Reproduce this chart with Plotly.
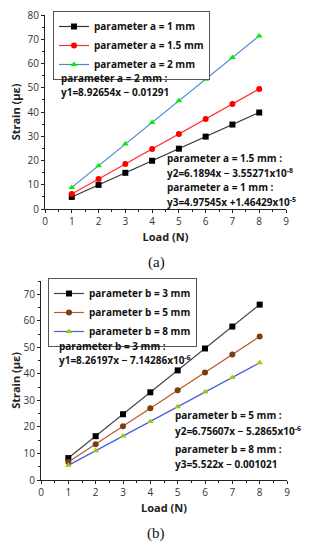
import plotly.graph_objects as go

load = [1, 2, 3, 4, 5, 6, 7, 8]

# (a)
a_names = ["parameter a = 1 mm", "parameter a = 1.5 mm", "parameter a = 2 mm"]
a1 = [4.98, 9.95, 14.93, 19.90, 24.88, 29.85, 34.83, 39.80]
a15 = [6.19, 12.38, 18.57, 24.76, 30.95, 37.14, 43.33, 49.52]
a2 = [8.91, 17.84, 26.77, 35.69, 44.62, 53.55, 62.47, 71.40]

# (b)
b_names = ["parameter b = 3 mm", "parameter b = 5 mm", "parameter b = 8 mm"]
b3 = [8.26, 16.52, 24.79, 33.05, 41.31, 49.57, 57.83, 66.10]
b5 = [6.76, 13.51, 20.27, 27.02, 33.78, 40.54, 47.29, 54.05]
b8 = [5.52, 11.04, 16.56, 22.09, 27.61, 33.13, 38.65, 44.18]

x_ticks = [0, 1, 2, 3, 4, 5, 6, 7, 8, 9]
ya_ticks = [0, 10, 20, 30, 40, 50, 60, 70, 80]
yb_ticks = [0, 10, 20, 30, 40, 50, 60, 70]

# page body has an 8px margin; the figure fills the rest of the 312x550 window
OFF = 8
W, H = 312 - OFF, 550 - OFF
def px(x): return (x - OFF) / W
def py(y): return 1 - (y - OFF) / H

FONT = "Open Sans"
fig = go.Figure()

def add(xs, ys, name, lc, mc, sym, xa, ya, leg):
    fig.add_trace(go.Scatter(x=xs, y=ys, name=name, mode="lines+markers",
                             line=dict(color=lc, width=1.2),
                             marker=dict(color=mc, symbol=sym, size=6),
                             xaxis=xa, yaxis=ya, legend=leg))

add(load, a1, a_names[0], "#333333", "#000000", "square", "x", "y", "legend")
add(load, a15, a_names[1], "#ff3030", "#ff0000", "circle", "x", "y", "legend")
add(load, a2, a_names[2], "#4a88cc", "#00ee00", "triangle-up", "x", "y", "legend")

add(load, b3, b_names[0], "#444444", "#000000", "square", "x2", "y2", "legend2")
add(load, b5, b_names[1], "#b85a30", "#7a3f10", "circle", "x2", "y2", "legend2")
add(load, b8, b_names[2], "#4a5ae0", "#99cc00", "triangle-up", "x2", "y2", "legend2")

def ax(domain, rng, tickvals, anchor, title, mdt):
    return dict(domain=domain, range=rng, tickvals=tickvals, anchor=anchor,
                automargin=False, showline=True, linecolor="#222", linewidth=1,
                ticks="outside", ticklen=3, tickcolor="#222", showgrid=False,
                zeroline=False, tickfont=dict(family=FONT, size=10, color="#333"),
                ticklabeloverflow="allow",
                minor=dict(ticks="outside", ticklen=2, tickcolor="#222", dtick=mdt),
                title=dict(text=title, font=dict(family=FONT, size=11, color="#222", weight="bold"),
                           standoff=6))

fig.update_layout(
    width=W, height=H, margin=dict(l=0, r=0, t=0, b=0, autoexpand=False),
    paper_bgcolor="white", plot_bgcolor="white",
    xaxis=ax([px(45), px(286)], [0, 9], x_ticks, "y", "Load (N)", 0.5),
    yaxis=ax([py(209), py(15)], [0, 80.01], ya_ticks, "x", "Strain (με)", 5),
    xaxis2=ax([px(41), px(287)], [0, 9], x_ticks, "y2", "Load (N)", 0.5),
    yaxis2=ax([py(480), py(281)], [0, 75], yb_ticks, "x2", "Strain (με)", 5),
    legend=dict(x=px(53), y=py(11), xanchor="left", yanchor="top",
                bordercolor="#555", borderwidth=1, bgcolor="white",
                font=dict(family=FONT, size=10, color="#111", weight="bold"), itemwidth=30,
                tracegroupgap=0),
    legend2=dict(x=px(48), y=py(278), xanchor="left", yanchor="top",
                 bordercolor="#555", borderwidth=1, bgcolor="white",
                 font=dict(family=FONT, size=10, color="#111", weight="bold"), itemwidth=30,
                 tracegroupgap=0),
)

ann_font = dict(family=FONT, size=10, color="#111", weight="bold")
texts = [
    ("parameter a = 2 mm :", 59, 78),
    ("y1=8.92654x − 0.01291", 59, 92),
    ("parameter a = 1.5 mm :", 165, 158),
    ("y2=6.1894x − 3.55271x10<sup>-8</sup>", 165, 173),
    ("parameter a = 1 mm :", 165, 187),
    ("y3=4.97545x +1.46429x10<sup>-5</sup>", 165, 202),
    ("parameter b = 3 mm :", 57, 346),
    ("y1=8.26197x − 7.14286x10<sup>-6</sup>", 57, 360),
    ("parameter b = 5 mm :", 173, 415),
    ("y2=6.75607x − 5.2865x10<sup>-6</sup>", 173, 431),
    ("parameter b = 8 mm :", 173, 449),
    ("y3=5.522x − 0.001021", 173, 464),
]
for t, x, y in texts:
    fig.add_annotation(text=t, x=px(x), y=py(y), xref="paper", yref="paper",
                       xanchor="left", yanchor="middle", showarrow=False, font=ann_font)

for t, y in [("(a)", 263), ("(b)", 533)]:
    fig.add_annotation(text=t, x=px(156), y=py(y), xref="paper", yref="paper",
                       xanchor="center", yanchor="middle", showarrow=False,
                       font=dict(family="Liberation Serif", size=15, color="#111"))

fig.write_html("out.html")
